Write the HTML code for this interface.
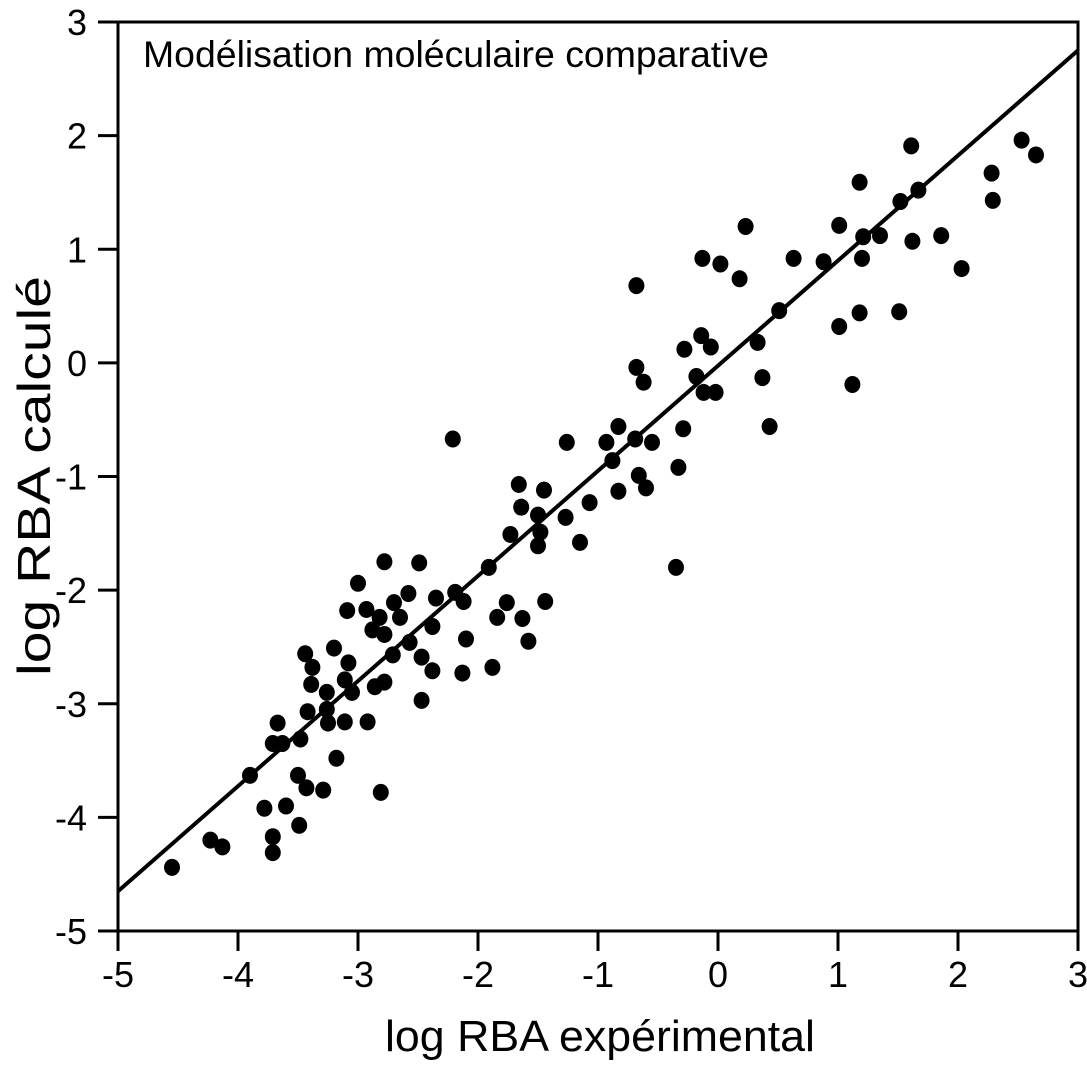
<!DOCTYPE html>
<html><head><meta charset="utf-8"><style>
body{margin:0;background:#fff;}
svg text{font-family:"Liberation Sans",Arial,sans-serif;fill:#000;}
</style></head><body>
<svg id="chart" width="1087" height="1062" viewBox="0 0 1087 1062" xmlns="http://www.w3.org/2000/svg">
<g id="ticks"></g>
<g id="marks"></g>
<text x="143" y="67" font-size="37" textLength="626" lengthAdjust="spacingAndGlyphs">Modélisation moléculaire comparative</text>
<text x="600" y="1051" font-size="44" text-anchor="middle" textLength="430" lengthAdjust="spacingAndGlyphs">log RBA expérimental</text>
<text transform="translate(50,476) rotate(-90)" font-size="46" text-anchor="middle" textLength="400" lengthAdjust="spacingAndGlyphs">log RBA calculé</text>
</svg>
<script>
const xTicks=[-5,-4,-3,-2,-1,0,1,2,3];
const yTicks=[-5,-4,-3,-2,-1,0,1,2,3];
const xs=[-3.00,-2.78,-2.49,-3.09,-2.93,-2.82,-2.70,-2.58,-2.35,-2.19,-2.12,-2.65,-2.88,-2.78,-2.38,-2.57,-2.71,-2.47,-2.38,-2.10,-2.13,-1.88,-1.84,-1.76,-1.63,-1.58,-1.44,-1.73,-1.91,-2.47,-3.44,-3.38,-3.39,-3.20,-3.08,-3.11,-3.26,-3.05,-2.86,-2.78,-3.42,-3.26,-3.25,-3.11,-2.92,-3.67,-3.71,-3.63,-3.48,-3.18,-3.90,-3.50,-3.43,-3.29,-2.81,-3.78,-3.60,-3.49,-4.23,-4.13,-3.71,-3.71,-4.55,
1.61,2.53,2.65,1.18,2.28,1.67,1.52,2.29,0.23,1.01,1.21,1.35,1.62,1.86,-0.13,0.02,0.63,0.88,1.20,0.18,2.03,-0.68,0.51,1.18,1.51,1.01,-0.14,-0.06,-0.28,0.33,-0.68,-0.62,-0.18,0.37,-0.12,-0.02,1.12,0.43,-0.29,-2.21,-1.26,-0.93,-0.69,-0.55,-0.83,-0.88,-0.33,-0.66,-0.60,-0.83,-1.07,-1.66,-1.45,-1.64,-1.50,-1.48,-1.27,-1.15,-1.50,-0.35];
const ys=[-1.94,-1.75,-1.76,-2.18,-2.17,-2.24,-2.11,-2.03,-2.07,-2.02,-2.10,-2.24,-2.35,-2.39,-2.32,-2.46,-2.57,-2.59,-2.71,-2.43,-2.73,-2.68,-2.24,-2.11,-2.25,-2.45,-2.10,-1.51,-1.80,-2.97,-2.56,-2.68,-2.83,-2.51,-2.64,-2.79,-2.90,-2.90,-2.85,-2.81,-3.07,-3.05,-3.17,-3.16,-3.16,-3.17,-3.35,-3.35,-3.31,-3.48,-3.63,-3.63,-3.74,-3.76,-3.78,-3.92,-3.90,-4.07,-4.20,-4.26,-4.17,-4.31,-4.44,
1.91,1.96,1.83,1.59,1.67,1.52,1.42,1.43,1.20,1.21,1.11,1.12,1.07,1.12,0.92,0.87,0.92,0.89,0.92,0.74,0.83,0.68,0.46,0.44,0.45,0.32,0.24,0.14,0.12,0.18,-0.04,-0.17,-0.12,-0.13,-0.26,-0.26,-0.19,-0.56,-0.58,-0.67,-0.70,-0.70,-0.67,-0.70,-0.56,-0.86,-0.92,-0.99,-1.10,-1.13,-1.23,-1.07,-1.12,-1.27,-1.34,-1.49,-1.36,-1.58,-1.61,-1.80];
const fitSlope=0.925, fitIntercept=-0.025;
const L=118,R=1078,T=22,B=931;
const sx=v=>L+(v+5)/8*(R-L);
const sy=v=>B-(v+5)/8*(B-T);
const NS='http://www.w3.org/2000/svg';
function mk(tag,attrs,parent){const e=document.createElementNS(NS,tag);for(const k in attrs)e.setAttribute(k,attrs[k]);parent.appendChild(e);return e;}
const tg=document.getElementById('ticks'), mg=document.getElementById('marks');
const frame=mk('rect',{x:L,y:T,width:R-L,height:B-T,fill:'none',stroke:'#000','stroke-width':3},tg);


xTicks.forEach(v=>{
 const t=mk('line',{x1:sx(v),x2:sx(v),y1:B,y2:B+20,stroke:'#000','stroke-width':3},tg);
 
 
 const l=mk('text',{x:sx(v),y:B+56,'font-size':36,'text-anchor':'middle'},tg);l.textContent=String(v);
 
 
});
yTicks.forEach(v=>{
 const t=mk('line',{x1:L-20,x2:L,y1:sy(v),y2:sy(v),stroke:'#000','stroke-width':3},tg);
 
 
 const l=mk('text',{x:L-31,y:sy(v)+13,'font-size':36,'text-anchor':'end'},tg);l.textContent=String(v);
 
 
});
const fl=mk('line',{x1:sx(-5),y1:sy(fitSlope*-5+fitIntercept),x2:sx(3),y2:sy(fitSlope*3+fitIntercept),stroke:'#000','stroke-width':4},mg);


xs.forEach((x,i)=>{
 const c=mk('ellipse',{cx:sx(x),cy:sy(ys[i]),rx:8,ry:8.5,fill:'#000'},mg);
 
 
});
</script>
</body></html>
